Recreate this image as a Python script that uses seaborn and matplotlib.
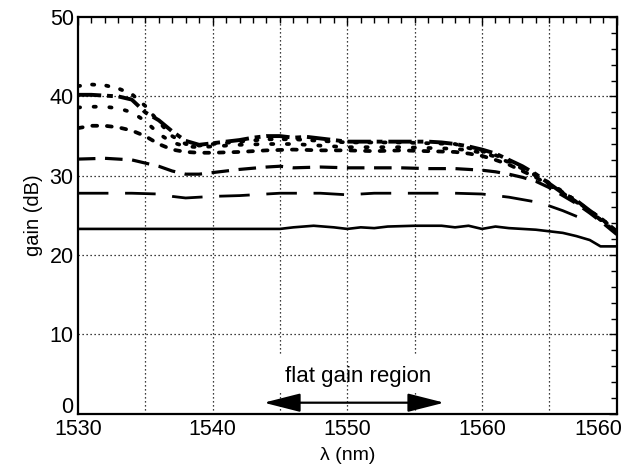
import numpy as np
import pandas as pd
import matplotlib
matplotlib.use("Agg")
import matplotlib.pyplot as plt
import matplotlib.transforms as mtransforms
import seaborn as sns
from matplotlib.ticker import MultipleLocator, FixedLocator

# ---------------- data ----------------
x_ticks = [1530, 1540, 1550, 1560, 1570]
x_tick_labels = ["1530", "1540", "1550", "1560", "1560"]
y_ticks = [0, 10, 20, 30, 40, 50]

g_x = [1530, 1535, 1540, 1545, 1546, 1547.5, 1549, 1550, 1551, 1552, 1553, 1555, 1557, 1558,
       1559, 1560, 1561, 1562, 1563, 1564, 1565, 1566, 1567, 1568, 1568.8, 1570]
g_y = [23.3, 23.3, 23.3, 23.3, 23.5, 23.7, 23.5, 23.3, 23.5, 23.4, 23.6, 23.7, 23.7, 23.5,
       23.7, 23.3, 23.6, 23.4, 23.3, 23.2, 23.0, 22.8, 22.4, 21.9, 21.1, 21.1]

f_x = [1530, 1532, 1534, 1536, 1537, 1538, 1539, 1540, 1542, 1545, 1548, 1550, 1552, 1555,
       1558, 1560, 1561, 1562, 1563, 1564, 1565, 1566, 1567, 1567.8]
f_y = [27.8, 27.8, 27.8, 27.7, 27.4, 27.2, 27.3, 27.4, 27.5, 27.8, 27.8, 27.6, 27.8, 27.8,
       27.8, 27.7, 27.5, 27.3, 27.0, 26.7, 26.2, 25.6, 24.9, 24.4]

e_x = [1530, 1532, 1534, 1535, 1536, 1537, 1538, 1539, 1540, 1542, 1544, 1545, 1546, 1548,
       1550, 1552, 1554, 1556, 1558, 1560, 1561, 1562, 1563, 1564, 1565, 1566, 1567, 1568,
       1569, 1570]
e_y = [32.1, 32.2, 32.0, 31.6, 31.2, 30.6, 30.2, 30.2, 30.4, 30.8, 31.1, 31.2, 31.0, 31.1,
       31.0, 31.0, 31.0, 30.9, 30.9, 30.7, 30.5, 30.2, 29.8, 29.3, 28.5, 27.5, 26.5, 25.3,
       24.0, 22.6]

d_x = [1530, 1531, 1532, 1533, 1534, 1535, 1536, 1537, 1538, 1539, 1540, 1542, 1544, 1546,
       1548, 1550, 1552, 1554, 1556, 1558, 1559, 1560, 1561, 1562, 1563, 1564, 1565, 1566,
       1567, 1568, 1569, 1570]
d_y = [36.0, 36.3, 36.3, 36.1, 35.7, 35.0, 34.0, 33.3, 33.0, 32.9, 32.9, 33.0, 33.2, 33.3,
       33.2, 33.2, 33.1, 33.2, 33.1, 33.0, 32.8, 32.5, 32.0, 31.4, 30.6, 29.8, 28.8, 27.8,
       26.7, 25.5, 24.2, 22.8]

c_x = d_x
c_y = [38.6, 38.7, 38.7, 38.5, 38.0, 36.9, 35.3, 34.2, 33.7, 33.6, 33.7, 33.9, 34.0, 34.0,
       33.8, 33.6, 33.6, 33.6, 33.5, 33.4, 33.2, 32.9, 32.4, 31.7, 30.9, 30.0, 29.0, 27.9,
       26.7, 25.5, 24.2, 22.8]

b_x = d_x
b_y = [41.3, 41.5, 41.4, 41.0, 40.3, 38.8, 36.8, 35.0, 34.0, 33.8, 34.0, 34.3, 34.6, 34.6,
       34.4, 34.2, 34.2, 34.2, 34.1, 34.0, 33.5, 33.1, 32.6, 31.9, 31.0, 30.1, 29.1, 28.0,
       26.8, 25.6, 24.4, 23.0]

a_x = [1530, 1531, 1532, 1533, 1534, 1535, 1536, 1537, 1538, 1539, 1540, 1541, 1542, 1543,
       1544, 1545, 1546, 1547, 1548, 1549, 1550, 1552, 1554, 1556, 1557, 1558, 1559, 1560,
       1561, 1562, 1563, 1564, 1565, 1566, 1567, 1568, 1569, 1570]
a_y = [40.2, 40.2, 40.1, 40.0, 39.6, 38.0, 37.0, 35.6, 34.4, 33.9, 34.1, 34.3, 34.5, 34.8,
       35.0, 35.0, 34.8, 34.9, 34.7, 34.5, 34.3, 34.3, 34.3, 34.3, 34.2, 34.0, 33.7, 33.3,
       32.8, 32.0, 31.2, 30.2, 29.0, 27.8, 26.9, 25.6, 24.4, 23.0]

grid_full_x = [1535, 1540, 1550, 1560, 1565]
grid_part_x = [1545, 1555]
grid_y = [10, 20, 30, 40]

arrow_from, arrow_to, arrow_y = 1543.8, 1557.2, 1.4
label_x, label_y = 1550.8, 4.7

# ---------------- figure ----------------
sns.set_style("white")
plt.rcParams["font.family"] = ["Liberation Sans", "DejaVu Sans"]
plt.rcParams["text.color"] = "black"
plt.rcParams["axes.labelcolor"] = "black"
plt.rcParams["xtick.color"] = "black"
plt.rcParams["ytick.color"] = "black"

fig = plt.figure(figsize=(6.28, 4.74), dpi=100)
ax = fig.add_axes([0.124, 0.127, 0.858, 0.837])

grid_kw = dict(color="black", lw=0.9, ls=(0, (1, 2.2)), zorder=1)
for gx in grid_full_x:
    ax.axvline(gx, **grid_kw)
for gx in grid_part_x:
    ax.axvline(gx, ymin=7.6 / 50, ymax=1, **grid_kw)
    ax.axvline(gx, ymin=0, ymax=3.0 / 50, **grid_kw)
for gy in grid_y:
    ax.axhline(gy, **grid_kw)

k = dict(ax=ax, color="black", legend=False, zorder=3)
sns.lineplot(x=g_x, y=g_y, lw=1.9, linestyle="-", **k)
sns.lineplot(x=f_x, y=f_y, lw=2.0, linestyle=(0, (11, 6)), **k)
sns.lineplot(x=e_x, y=e_y, lw=2.3, linestyle=(0, (5.5, 3)), **k)
sns.lineplot(x=d_x, y=d_y, lw=2.7, linestyle=(0, (1.3, 2.6)), dash_capstyle="round", **k)
sns.lineplot(x=c_x, y=c_y, lw=2.7, linestyle=(0, (0.6, 3.6)), dash_capstyle="round", **k)
sns.lineplot(x=b_x, y=b_y, lw=2.7, linestyle=(0, (0.6, 3.2)), dash_capstyle="round", **k)
sns.lineplot(x=a_x, y=a_y, lw=2.8, linestyle=(0, (6, 1.5, 1.5, 1.5)), **k)

ax.set_xlim(1530, 1570)
ax.set_ylim(0, 50)
ax.xaxis.set_major_locator(FixedLocator(x_ticks))
ax.set_xticklabels(x_tick_labels)
ax.xaxis.set_minor_locator(MultipleLocator(1))
ax.yaxis.set_major_locator(FixedLocator(y_ticks))
ax.yaxis.set_minor_locator(MultipleLocator(2))
ax.tick_params(which="both", direction="in", top=True, right=True, colors="black",
               labelsize=15.5)
ax.tick_params(axis="x", pad=4)
ax.tick_params(axis="y", pad=3)
ax.tick_params(which="major", length=6, width=1.0)
ax.tick_params(which="minor", length=4, width=1.0)
for s in ax.spines.values():
    s.set_linewidth(1.6)
    s.set_color("black")

# last tick label pulled inward so it fits, as in the reference
last = ax.get_xticklabels()[-1]
last.set_horizontalalignment("right")
last.set_transform(last.get_transform() +
                   mtransforms.ScaledTranslation(6 / 100, 0, fig.dpi_scale_trans))
# the "0" label sits slightly above the axis line in the reference
zero = ax.get_yticklabels()[0]
zero.set_verticalalignment("bottom")
zero.set_transform(zero.get_transform() +
                   mtransforms.ScaledTranslation(0, -4 / 100, fig.dpi_scale_trans))

ax.set_xlabel("λ (nm)", fontsize=14, labelpad=5)
ax.set_ylabel("gain (dB)", fontsize=14.5, labelpad=5)

ax.annotate("", xy=(arrow_to, arrow_y), xytext=(arrow_from, arrow_y),
            arrowprops=dict(arrowstyle="<|-|>,head_length=1.5,head_width=0.38",
                            color="black", lw=1.6, mutation_scale=15,
                            shrinkA=0, shrinkB=0), zorder=4)
ax.text(label_x, label_y, "flat gain region", ha="center", va="center", fontsize=16)

fig.savefig("out.png", dpi=100)
